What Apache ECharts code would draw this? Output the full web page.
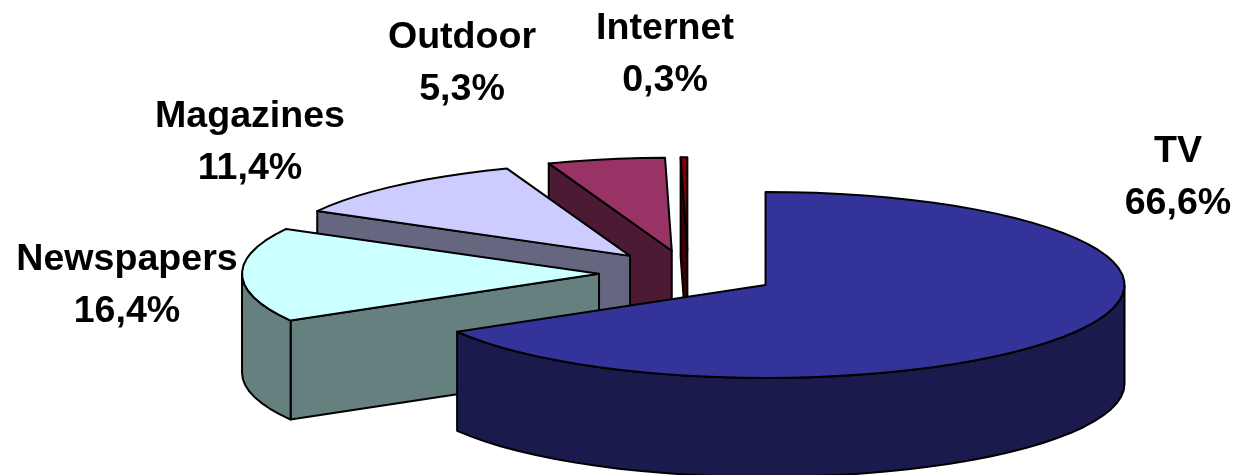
<!DOCTYPE html>
<html>
<head>
<meta charset="utf-8">
<style>html,body{margin:0;padding:0;background:#fff}#c{width:1236px;height:475px}</style>
<script src="https://cdn.jsdelivr.net/npm/echarts@6/dist/echarts.min.js"></script>
</head>
<body>
<div id="c"></div>
<script>
const categories = ['TV', 'Newspapers', 'Magazines', 'Outdoor', 'Internet'];
const shares = [66.6, 16.4, 11.4, 5.3, 0.3];

const topColors = ['#333399', '#CCFFFF', '#CCCCFF', '#993366', '#800000'];
const sideColors = ['#1A1A4D', '#668080', '#666680', '#4D1A33', '#400000'];
const labelCenters = [[1178, 178], [127, 286], [250, 143], [462, 64], [665, 55]];

const pieCenter = [688.2, 273.4];
const radiusXRight = 359, radiusXLeft = 357, radiusY = 93, depth = 99, explode = 0.2484, step = 4;

const total = shares.reduce((a, b) => a + b, 0);
const startAngles = [];
shares.reduce((acc, v, i) => { startAngles[i] = acc; return acc + v / total * 360; }, 0);

const rad = d => d * Math.PI / 180;
function rim(apex, deg, dy) {
  const s = Math.sin(rad(deg));
  return [apex[0] + (s < 0 ? radiusXLeft : radiusXRight) * s, apex[1] - radiusY * Math.cos(rad(deg)) + (dy || 0)];
}
function arcPoints(apex, a0, a1, dy) {
  const pts = [];
  const n = Math.max(1, Math.ceil((a1 - a0) / step));
  for (let k = 0; k <= n; k++) pts.push(rim(apex, a0 + (a1 - a0) * k / n, dy));
  return pts;
}
const ink = { stroke: '#000', lineWidth: 2, lineJoin: 'round' };
function face(points, fill) {
  return { type: 'polygon', shape: { points }, style: Object.assign({ fill }, ink) };
}

function renderSlice(params, api) {
  const i = api.value(0), share = api.value(1);
  const a0 = startAngles[i], a1 = a0 + share / total * 360, mid = (a0 + a1) / 2;
  const apex = [
    pieCenter[0] + explode * radiusXRight * Math.sin(rad(mid)),
    pieCenter[1] - explode * radiusY * Math.cos(rad(mid))
  ];
  const down = p => [p[0], p[1] + depth];
  const children = [];
  // radial walls that face the viewer
  const wall = a => {
    const p = rim(apex, a);
    children.push(face([apex, p, down(p), down(apex)], sideColors[i]));
  };
  if (Math.sin(rad(a0)) < 0) wall(a0);
  if (Math.sin(rad(a1)) > 0) wall(a1);
  // outer wall: only the front half of the rim is visible
  const f0 = Math.max(a0, 90), f1 = Math.min(a1, 270);
  if (f1 > f0) {
    const topEdge = arcPoints(apex, f0, f1, 0);
    const botEdge = arcPoints(apex, f0, f1, depth).reverse();
    children.push(face(topEdge.concat(botEdge), sideColors[i]));
  }
  // top
  children.push(face([apex].concat(arcPoints(apex, a0, a1, 0)), topColors[i]));
  // label
  children.push({
    type: 'text', z2: 100,
    style: {
      x: labelCenters[i][0], y: labelCenters[i][1],
      text: categories[i] + '\n' + share.toFixed(1).replace('.', ',') + '%',
      font: 'bold 37.6px "Liberation Sans", Arial, sans-serif',
      lineHeight: 52, fill: '#000', align: 'center', verticalAlign: 'middle'
    }
  });
  return { type: 'group', children };
}

const chart = echarts.init(document.getElementById('c'), null, { renderer: 'canvas' });
chart.setOption({
  animation: false,
  backgroundColor: '#fff',
  series: [{
    type: 'custom',
    coordinateSystem: 'none',
    renderItem: renderSlice,
    encode: { value: 1 },
    // painted back to front
    data: categories.map((c, i) => ({ name: c, value: [i, shares[i]] })).reverse()
  }]
});
</script>
</body>
</html>
